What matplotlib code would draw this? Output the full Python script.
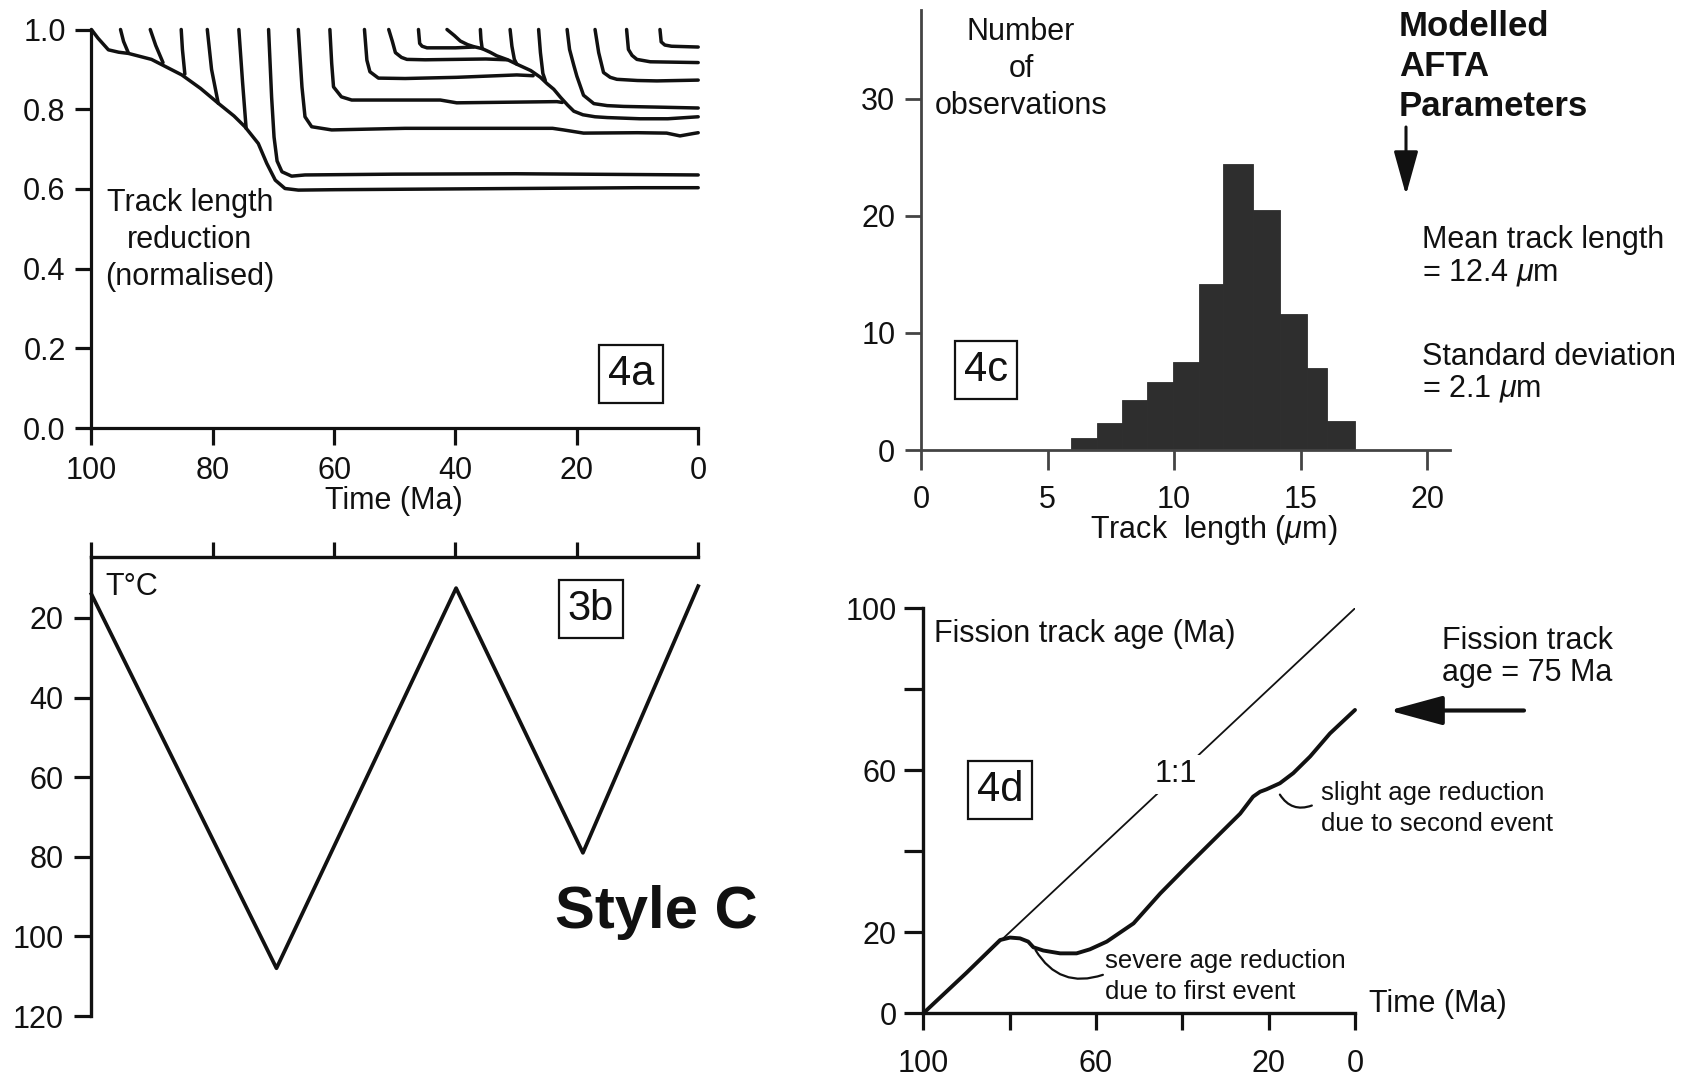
import matplotlib
matplotlib.use("Agg")
import matplotlib.pyplot as plt
from matplotlib.patches import FancyArrowPatch

plt.rcParams['font.family'] = ['Liberation Sans', 'DejaVu Sans']
plt.rcParams['mathtext.fontset'] = 'custom'
plt.rcParams['mathtext.rm'] = 'Liberation Sans'
plt.rcParams['mathtext.it'] = 'Liberation Sans:italic'
plt.rcParams['mathtext.bf'] = 'Liberation Sans:bold'

# ---------------- data ----------------
# 4a: track length reduction curves (time Ma, normalised length)
track_times = [
    [100, 98.9, 97.2, 95.5, 93.9, 90.1, 85.1, 82.0, 79.1, 76.5, 74.7, 72.5, 71.1, 69.7, 68.1, 65.9, 60, 50, 40, 30, 20, 10, 0],
    [95.2, 94.7, 93.9],
    [90.3, 89.4, 88.2],
    [85.2, 85.0, 84.6],
    [80.9, 80.2, 79.1],
    [75.7, 75.1, 74.5],
    [70.8, 70.3, 69.9, 69.4, 68.6, 67.0, 64.8, 50, 30, 10, 0],
    [65.9, 65.3, 64.8, 63.7, 60.4, 48.3, 35, 24, 22.2, 18.9, 10, 5.2, 3.0, 0.8, 0],
    [60.7, 60.4, 60.1, 58.8, 57.1, 50.7, 42.5, 39.8, 23.3, 22.4],
    [55.0, 54.6, 54.1, 52.7, 48.3, 39.8, 29.9, 27.2],
    [51.0, 50.4, 49.9, 48.9, 48.0, 45, 40, 35, 31.5],
    [46.1, 45.9, 45.5, 44.7, 40, 37.0],
    [41.4, 40.2, 39.2, 38.0, 37.0, 35.6, 34.3, 33.2, 31.4, 29.9, 27.6, 26.0, 24.9, 23.8, 22.7, 21.5, 20.5, 19.0, 17, 15.0, 9.6, 5, 2, 0],
    [35.9, 35.8, 35.6],
    [31.0, 30.7, 30.3, 29.9],
    [26.3, 26.0, 25.6, 25.2],
    [21.6, 21.2, 20.5, 20.0, 18.9, 17.2, 15, 12.3, 6, 0],
    [17.0, 16.4, 15.6, 14.5, 13.4, 10, 6.8, 0],
    [11.8, 11.5, 10.9, 10.1, 7.9, 0],
    [6.3, 6.1, 5.5, 4.4, 0],
]
track_lengths = [
    [1.0, 0.978, 0.949, 0.943, 0.940, 0.925, 0.886, 0.852, 0.815, 0.783, 0.756, 0.714, 0.664, 0.622, 0.601, 0.597, 0.598, 0.599, 0.600, 0.601, 0.602, 0.603, 0.603],
    [1.0, 0.97, 0.941],
    [1.0, 0.96, 0.917],
    [1.0, 0.95, 0.888],
    [1.0, 0.90, 0.815],
    [1.0, 0.87, 0.752],
    [1.0, 0.83, 0.73, 0.67, 0.643, 0.632, 0.635, 0.637, 0.638, 0.636, 0.635],
    [1.0, 0.856, 0.781, 0.756, 0.748, 0.752, 0.752, 0.752, 0.748, 0.740, 0.741, 0.740, 0.733, 0.739, 0.741],
    [1.0, 0.915, 0.856, 0.831, 0.823, 0.823, 0.823, 0.816, 0.819, 0.817],
    [1.0, 0.923, 0.894, 0.878, 0.877, 0.880, 0.886, 0.884],
    [1.0, 0.97, 0.942, 0.93, 0.925, 0.924, 0.925, 0.926, 0.924],
    [1.0, 0.965, 0.958, 0.954, 0.954, 0.956],
    [1.0, 0.985, 0.971, 0.962, 0.957, 0.952, 0.943, 0.934, 0.924, 0.913, 0.897, 0.880, 0.864, 0.850, 0.830, 0.810, 0.795, 0.786, 0.781, 0.779, 0.776, 0.776, 0.779, 0.781],
    [1.0, 0.975, 0.952],
    [1.0, 0.958, 0.925, 0.913],
    [1.0, 0.942, 0.89, 0.872],
    [1.0, 0.95, 0.91, 0.883, 0.835, 0.814, 0.809, 0.807, 0.805, 0.803],
    [1.0, 0.942, 0.892, 0.880, 0.875, 0.872, 0.871, 0.873],
    [1.0, 0.95, 0.935, 0.925, 0.919, 0.917],
    [1.0, 0.969, 0.961, 0.958, 0.956],
]
time_ticks = [100, 80, 60, 40, 20, 0]
length_ticks = [0.0, 0.2, 0.4, 0.6, 0.8, 1.0]

# 3b: thermal history
thermal_time = [100, 69.5, 39.9, 19.0, 0]
thermal_temp = [14, 108, 12.5, 79, 12]
temp_ticks = [20, 40, 60, 80, 100, 120]

# 4c: track length histogram
bin_left = [5.92, 6.94, 7.93, 8.92, 9.95, 11.0, 11.95, 13.13, 14.19, 15.25, 16.04]
bin_right = [6.94, 7.93, 8.92, 9.95, 11.0, 11.95, 13.13, 14.19, 15.25, 16.04, 17.15]
bin_counts = [1.0, 2.3, 4.3, 5.8, 7.5, 14.2, 24.4, 20.5, 11.6, 7.0, 2.5]
length_axis_ticks = [0, 5, 10, 15, 20]
count_ticks = [0, 10, 20, 30]

# 4d: fission track age evolution
age_time = [100, 90, 82.2, 79.9, 77.6, 75.7, 74.5, 72.2, 68.3, 64.5, 61.4, 57.5, 51.3, 45.1, 39.0, 32.0,
            26.6, 23.6, 22.0, 20.5, 17.4, 14.3, 10.4, 5.8, 0]
age_value = [0, 10, 18.1, 18.7, 18.5, 17.7, 16.3, 15.5, 14.8, 14.8, 15.8, 17.7, 22.2, 29.6, 36.2, 43.6,
             49.3, 53.5, 54.7, 55.3, 56.8, 59.3, 63.4, 69.1, 74.9]
one_to_one_time = [100, 0]
one_to_one_age = [0, 100]
age_ticks = [0, 20, 40, 60, 80, 100]
age_ticklabels = ['0', '20', '', '60', '', '100']
agetime_ticklabels = ['100', '', '60', '', '20', '0']

# ---------------- figure ----------------
W, H = 1683, 1077
DPI = 100
fig = plt.figure(figsize=(W / DPI, H / DPI), dpi=DPI)
INK = '#111111'
FS = 22


def rect(x0, x1, y0, y1):
    return [x0 / W, 1 - y1 / H, (x1 - x0) / W, (y1 - y0) / H]


def ftext(x, y, s, **kw):
    kw.setdefault('fontsize', FS)
    kw.setdefault('color', INK)
    kw.setdefault('va', 'center')
    return fig.text(x / W, 1 - y / H, s, **kw)


def boxed(x, y, s):
    ftext(x, y, s, fontsize=30, ha='center',
          bbox=dict(boxstyle='square,pad=0.22', fc='white', ec=INK, lw=1.6))


# ---- 4a ----
ax_a = fig.add_axes(rect(91.4, 698.2, 29.5, 428))
for tt, ll in zip(track_times, track_lengths):
    ax_a.plot(tt, ll, color=INK, lw=2.5, clip_on=False, solid_capstyle='round', solid_joinstyle='round')
ax_a.set_xlim(100, 0)
ax_a.set_ylim(0, 1.0)
for s in ['top', 'right']:
    ax_a.spines[s].set_visible(False)
for s in ['left', 'bottom']:
    ax_a.spines[s].set_linewidth(2.3)
    ax_a.spines[s].set_color(INK)
ax_a.set_xticks(time_ticks)
ax_a.set_xticklabels([str(t) for t in time_ticks])
ax_a.set_yticks(length_ticks)
ax_a.set_yticklabels(['%.1f' % v for v in length_ticks])
ax_a.tick_params(axis='x', direction='out', length=12, width=2.3, labelsize=FS, pad=8, colors=INK)
ax_a.tick_params(axis='y', direction='out', length=11.5, width=2.3, labelsize=FS, pad=7, colors=INK)
ax_a.patch.set_alpha(0)
ftext(190, 203, 'Track length', ha='center')
ftext(190, 240, 'reduction', ha='center')
ftext(190, 277, '(normalised)', ha='center')
ftext(394, 501, 'Time (Ma)', ha='center')
boxed(631, 374, '4a')

# ---- 3b ----
ax_b = fig.add_axes(rect(91.4, 698.2, 557.3, 1016))
ax_b.plot(thermal_time, thermal_temp, color=INK, lw=2.7, clip_on=False)
ax_b.set_xlim(100, 0)
ax_b.set_ylim(120, 4.75)
for s in ['bottom', 'right']:
    ax_b.spines[s].set_visible(False)
for s in ['left', 'top']:
    ax_b.spines[s].set_linewidth(2.4)
    ax_b.spines[s].set_color(INK)
ax_b.xaxis.tick_top()
ax_b.set_xticks(time_ticks)
ax_b.tick_params(axis='x', direction='out', length=11, width=2.3, labeltop=False, labelbottom=False, colors=INK)
ax_b.set_yticks(temp_ticks)
ax_b.set_yticklabels([str(t) for t in temp_ticks])
ax_b.tick_params(axis='y', direction='out', length=12, width=2.3, labelsize=FS, pad=8, colors=INK)
ax_b.patch.set_alpha(0)
ftext(105, 587, 'T°C', ha='left')
boxed(591, 609, '3b')
ftext(656, 912, 'Style C', ha='center', fontsize=43, fontweight='bold')

# ---- 4c ----
ax_c = fig.add_axes(rect(921, 1449.8, 10, 450))
ax_c.bar(bin_left, bin_counts, width=[r - l for l, r in zip(bin_left, bin_right)], align='edge',
         color='#2e2e2e', edgecolor='#2e2e2e', lw=0.6)
ax_c.set_xlim(0, 20.9)
ax_c.set_ylim(0, 37.6)
for s in ['top', 'right']:
    ax_c.spines[s].set_visible(False)
for s in ['left', 'bottom']:
    ax_c.spines[s].set_linewidth(2.0)
    ax_c.spines[s].set_color('#444444')
ax_c.set_xticks(length_axis_ticks)
ax_c.set_xticklabels([str(t) for t in length_axis_ticks])
ax_c.set_yticks(count_ticks)
ax_c.set_yticklabels([str(t) for t in count_ticks])
ax_c.tick_params(axis='x', direction='out', length=14.5, width=2.0, labelsize=FS, pad=11, colors='#444444', labelcolor=INK)
ax_c.tick_params(axis='y', direction='out', length=11.5, width=2.0, labelsize=FS, pad=7, colors='#444444', labelcolor=INK)
ax_c.patch.set_alpha(0)
ftext(1021, 32, 'Number', ha='center')
ftext(1021, 69, 'of', ha='center')
ftext(1021, 106, 'observations', ha='center')
boxed(986, 370, '4c')
ftext(1214, 530, r'Track  length ($\mu$m)', ha='center')

ftext(1399, 27, 'Modelled', ha='left', fontsize=25, fontweight='bold')
ftext(1399, 67, 'AFTA', ha='left', fontsize=25, fontweight='bold')
ftext(1399, 107, 'Parameters', ha='left', fontsize=25, fontweight='bold')
fig.add_artist(FancyArrowPatch((1406 / W, 1 - 127 / H), (1406 / W, 1 - 195 / H), transform=fig.transFigure,
                               arrowstyle='-|>,head_length=0.9,head_width=0.25', mutation_scale=30,
                               shrinkA=0, shrinkB=0, color=INK, lw=2.2))
ftext(1422, 240, 'Mean track length', ha='left')
ftext(1422, 272, r'= 12.4 $\mu$m', ha='left')
ftext(1422, 357, 'Standard deviation', ha='left')
ftext(1422, 389, r'= 2.1 $\mu$m', ha='left')

# ---- 4d ----
ax_d = fig.add_axes(rect(923.3, 1355, 608.3, 1013.3))
ax_d.plot(one_to_one_time, one_to_one_age, color=INK, lw=1.3, zorder=1)
ax_d.plot(age_time, age_value, color=INK, lw=2.8, zorder=2, clip_on=False,
          solid_joinstyle='round', solid_capstyle='round')
ax_d.text(41.6, 59.0, '1:1', fontsize=FS, color=INK, ha='center', va='center', zorder=3,
          bbox=dict(boxstyle='square,pad=0.15', fc='white', ec='none'))
ax_d.set_xlim(100, 0)
ax_d.set_ylim(0, 100)
for s in ['top', 'right']:
    ax_d.spines[s].set_visible(False)
for s in ['left', 'bottom']:
    ax_d.spines[s].set_linewidth(2.4)
    ax_d.spines[s].set_color(INK)
ax_d.set_xticks(time_ticks)
ax_d.set_xticklabels(agetime_ticklabels)
ax_d.set_yticks(age_ticks)
ax_d.set_yticklabels(age_ticklabels)
ax_d.tick_params(axis='x', direction='out', length=12.5, width=2.3, labelsize=FS, pad=13, colors=INK)
ax_d.tick_params(axis='y', direction='out', length=14, width=2.3, labelsize=FS, pad=5, colors=INK)
ax_d.patch.set_alpha(0)
ax_d.annotate('', xy=(74.0, 15.6), xytext=(58.4, 9.5),
              arrowprops=dict(arrowstyle='-', connectionstyle='arc3,rad=-0.4', lw=1.6, color=INK,
                              shrinkA=0, shrinkB=0))
ax_d.annotate('', xy=(17.4, 54.0), xytext=(10.0, 51.3),
              arrowprops=dict(arrowstyle='-', connectionstyle='arc3,rad=-0.4', lw=1.6, color=INK,
                              shrinkA=0, shrinkB=0))
ftext(934, 634, 'Fission track age (Ma)', ha='left')
boxed(1000, 790, '4d')
ftext(1105, 961, 'severe age reduction', ha='left', fontsize=18.5)
ftext(1105, 992, 'due to first event', ha='left', fontsize=18.5)
ftext(1321, 793, 'slight age reduction', ha='left', fontsize=18.5)
ftext(1321, 824, 'due to second event', ha='left', fontsize=18.5)
ftext(1369, 1004, 'Time (Ma)', ha='left')
ftext(1442, 641, 'Fission track', ha='left')
ftext(1442, 673, 'age = 75 Ma', ha='left')
fig.add_artist(FancyArrowPatch((1524 / W, 1 - 710.5 / H), (1389 / W, 1 - 710.5 / H), transform=fig.transFigure,
                               arrowstyle='-|>,head_length=1.1,head_width=0.3', mutation_scale=30,
                               shrinkA=0, shrinkB=0, color=INK, lw=3.0))

fig.savefig('out.png', dpi=DPI, facecolor='white')
